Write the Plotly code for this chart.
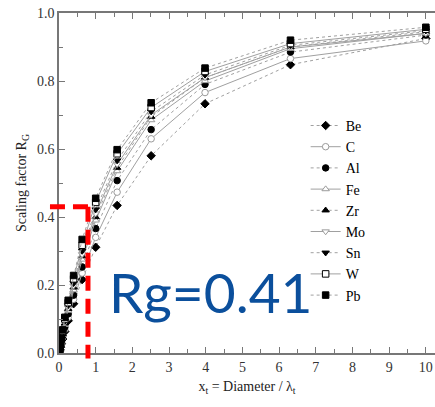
import plotly.graph_objects as go

# x_t values (log-spaced sampling)
x_vals = [0, 0.01, 0.016, 0.025, 0.04, 0.063, 0.1, 0.158, 0.251, 0.398, 0.631, 1.0, 1.585, 2.512, 3.981, 6.31, 10]

Be = [0, 0.004, 0.007, 0.011, 0.017, 0.027, 0.041, 0.063, 0.095, 0.145, 0.216, 0.311, 0.434, 0.580, 0.733, 0.848, 0.925]
C  = [0, 0.005, 0.008, 0.012, 0.019, 0.030, 0.046, 0.070, 0.105, 0.158, 0.235, 0.340, 0.473, 0.630, 0.766, 0.866, 0.918]
Al = [0, 0.005, 0.008, 0.013, 0.021, 0.033, 0.050, 0.076, 0.115, 0.170, 0.253, 0.366, 0.507, 0.657, 0.790, 0.885, 0.935]
Fe = [0, 0.006, 0.009, 0.014, 0.023, 0.035, 0.054, 0.083, 0.125, 0.185, 0.275, 0.390, 0.535, 0.685, 0.800, 0.895, 0.940]
Zr = [0, 0.006, 0.010, 0.015, 0.024, 0.037, 0.056, 0.087, 0.130, 0.193, 0.285, 0.400, 0.545, 0.695, 0.810, 0.900, 0.945]
Mo = [0, 0.006, 0.010, 0.015, 0.025, 0.038, 0.058, 0.090, 0.133, 0.198, 0.290, 0.410, 0.555, 0.700, 0.810, 0.900, 0.940]
Sn = [0, 0.006, 0.010, 0.016, 0.026, 0.040, 0.061, 0.094, 0.140, 0.205, 0.300, 0.422, 0.566, 0.710, 0.818, 0.905, 0.948]
W  = [0, 0.007, 0.011, 0.017, 0.027, 0.042, 0.065, 0.100, 0.148, 0.218, 0.317, 0.443, 0.586, 0.722, 0.828, 0.910, 0.952]
Pb = [0, 0.007, 0.012, 0.018, 0.028, 0.044, 0.068, 0.105, 0.155, 0.228, 0.334, 0.455, 0.598, 0.736, 0.838, 0.920, 0.958]

series_names = ["Be", "C", "Al", "Fe", "Zr", "Mo", "Sn", "W", "Pb"]
series_vals = [Be, C, Al, Fe, Zr, Mo, Sn, W, Pb]
# (symbol, filled, line dash)
styles = [
    ("diamond", True, "dot"),
    ("circle", False, "solid"),
    ("circle", True, "dot"),
    ("triangle-up", False, "solid"),
    ("triangle-up", True, "dot"),
    ("triangle-down", False, "solid"),
    ("triangle-down", True, "dot"),
    ("square", False, "solid"),
    ("square", True, "dot"),
]

rg_level = 0.43
rg_x = 0.79
rg_label = "Rg=0.41"

XMAX = 10.25
serif = "Liberation Serif"

fig = go.Figure()
for name, vals, (sym, filled, dash) in zip(series_names, series_vals, styles):
    if filled:
        marker = dict(symbol=sym, size=6.5, color="black", line=dict(color="black", width=1))
    else:
        edge = "black" if sym == "square" else "#9a9a9a"
        marker = dict(symbol=sym, size=6.5, color="white", line=dict(color=edge, width=1))
    fig.add_trace(go.Scatter(
        x=x_vals, y=vals, name=name, mode="lines+markers",
        line=dict(color="#a0a0a0", width=1, dash=dash),
        marker=marker,
    ))

# red dashed guide lines (paper coords so they may extend past the axes)
def xp(x):
    return x / XMAX

fig.add_shape(type="line", xref="paper", yref="y", x0=-0.024, x1=xp(rg_x) + 0.012,
              y0=rg_level, y1=rg_level,
              line=dict(color="#ff0000", width=5, dash="15px,8px"))
fig.add_shape(type="line", xref="paper", yref="paper", x0=xp(rg_x), x1=xp(rg_x),
              y0=rg_level, y1=-0.016,
              line=dict(color="#ff0000", width=5, dash="15px,8px"))

fig.add_annotation(text=rg_label, xref="paper", yref="paper", x=0.128, y=0.18,
                   xanchor="left", yanchor="middle", showarrow=False,
                   font=dict(family="Lato", size=55, color="#0b4f9c"))

fig.update_layout(
    width=435, height=407,
    margin=dict(l=59, r=0, t=13, b=54),
    plot_bgcolor="white", paper_bgcolor="white",
    showlegend=True,
    legend=dict(x=0.656, y=0.715, xanchor="left", yanchor="top",
                font=dict(family=serif, size=14, color="black"),
                bgcolor="rgba(0,0,0,0)", tracegroupgap=0),
    xaxis=dict(range=[0, XMAX], tickvals=list(range(0, 11)), showgrid=False, zeroline=False,
               automargin=False, ticklabeloverflow="allow",
               showline=True, linecolor="#777", linewidth=1.5, mirror="ticks",
               ticks="inside", ticklen=6, tickcolor="#777",
               minor=dict(dtick=0.5, ticks="inside", ticklen=4, tickcolor="#777"),
               tickfont=dict(family=serif, size=14, color="#333"),
               title=dict(text="x<sub>t</sub> = Diameter / λ<sub>t</sub>",
                          font=dict(family=serif, size=14, color="#222"), standoff=8)),
    yaxis=dict(range=[0, 1.0], dtick=0.2, tickformat=".1f", showgrid=False, zeroline=False,
               automargin=False, ticklabeloverflow="allow",
               showline=True, linecolor="#777", linewidth=1.5,
               ticks="inside", ticklen=6, tickcolor="#777",
               minor=dict(dtick=0.1, ticks="inside", ticklen=4, tickcolor="#777"),
               tickfont=dict(family=serif, size=14, color="#333"),
               title=dict(text="Scaling factor R<sub>G</sub>",
                          font=dict(family=serif, size=14, color="#222"), standoff=7)),
)

fig.write_html("out.html", config={"displayModeBar": False},
               post_script="document.body.style.margin='0';document.body.style.overflow='hidden';")
